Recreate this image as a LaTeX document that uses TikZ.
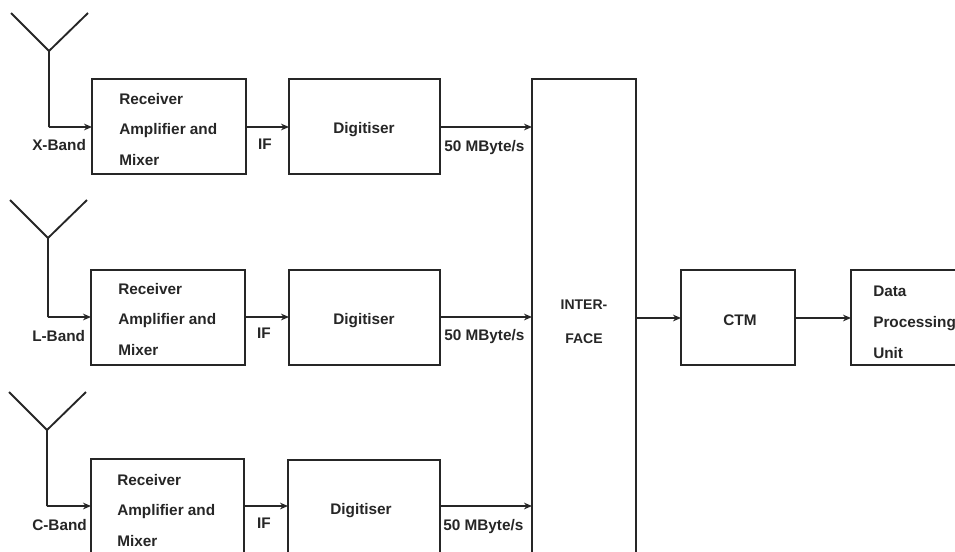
\documentclass[tikz,border=0pt]{standalone}
\usepackage{fontspec}
\setmainfont{Liberation Sans}
\usetikzlibrary{arrows.meta}
\definecolor{ink}{HTML}{262626}
\tikzset{
  x=0.75pt,y=-0.75pt,
  blockbox/.style={draw=ink,line width=1.3pt,rectangle,inner sep=0pt,outer sep=0pt,anchor=north west},
  lbl/.style={font=\fontsize{11.5}{13}\selectfont\bfseries,text=ink,inner sep=0pt,anchor=base west},
  clbl/.style={lbl,anchor=base},
  ifclbl/.style={clbl,font=\fontsize{10.5}{12}\selectfont\bfseries},
  conn/.style={draw=ink,line width=1.4pt,-{Stealth[length=6pt,width=5pt]}},
  aerial/.style={draw=ink,line width=1.4pt,line join=miter}
}
\newcommand{\blk}[5]{\node[blockbox,minimum width=#4*0.75pt,minimum height=#5*0.75pt] (#1) at (#2,#3) {}; }
\begin{document}
\begin{tikzpicture}
\useasboundingbox (0,0) rectangle (955,551);
\clip (0,0) rectangle (955,551);
\blk{r1}{92}{79}{154}{95}
\blk{d1}{289}{79}{151}{95}
\blk{r2}{91}{270}{154}{95}
\blk{d2}{289}{270}{151}{95}
\blk{r3}{91}{459}{153}{110}
\blk{d3}{288}{460}{152}{110}
\blk{ifc}{532}{79}{104}{490}
\blk{ctm}{681}{270}{114}{95}
\blk{dpu}{851}{270}{130}{95}
% antennas
\coordinate (a1l) at (11,13); \coordinate (a1r) at (88,13); \coordinate (a1j) at (49,51); \coordinate (a1b) at (49,127);
\coordinate (a2l) at (10,200); \coordinate (a2r) at (87,200); \coordinate (a2j) at (48,238); \coordinate (a2b) at (48,317);
\coordinate (a3l) at (9,392); \coordinate (a3r) at (86,392); \coordinate (a3j) at (47,430); \coordinate (a3b) at (47,506);
\coordinate (cy) at (0,318);
\draw[aerial] (a1l) -- (a1j) -- (a1r) (a1j) -- (a1b);
\draw[aerial] (a2l) -- (a2j) -- (a2r) (a2j) -- (a2b);
\draw[aerial] (a3l) -- (a3j) -- (a3r) (a3j) -- (a3b);
\draw[conn] (a1b) -- (a1b -| r1.west);
\draw[conn] (a2b) -- (a2b -| r2.west);
\draw[conn] (a3b) -- (a3b -| r3.west);
\draw[conn] (r1.east |- a1b) -- (d1.west |- a1b);
\draw[conn] (r2.east |- a2b) -- (d2.west |- a2b);
\draw[conn] (r3.east |- a3b) -- (d3.west |- a3b);
\draw[conn] (d1.east |- a1b) -- (ifc.west |- a1b);
\draw[conn] (d2.east |- a2b) -- (ifc.west |- a2b);
\draw[conn] (d3.east |- a3b) -- (ifc.west |- a3b);
\draw[conn] (ifc.east |- cy) -- (ctm.west |- cy);
\draw[conn] (ctm.east |- cy) -- (dpu.west |- cy);
% labels
\node[lbl] (t1a) at (119,104) {Receiver};
\node[lbl] (t1b) at (119,134) {Amplifier and};
\node[lbl] (t1c) at (119,165) {Mixer};
\node[lbl] (t2a) at (118,294) {Receiver};
\node[lbl] (t2b) at (118,324) {Amplifier and};
\node[lbl] (t2c) at (118,355) {Mixer};
\node[lbl] (t3a) at (117,485) {Receiver};
\node[lbl] (t3b) at (117,515) {Amplifier and};
\node[lbl] (t3c) at (117,546) {Mixer};
\node[lbl] (x) at (32,150) {X-Band};
\node[lbl] (l) at (32,341) {L-Band};
\node[lbl] (c) at (32,530) {C-Band};
\node[clbl] (i1) at (265,149) {IF};
\node[clbl] (i2) at (264,338) {IF};
\node[clbl] (i3) at (264,528) {IF};
\node[clbl] (g1) at (364,133) {Digitiser};
\node[clbl] (g2) at (364,324) {Digitiser};
\node[clbl] (g3) at (361,514) {Digitiser};
\node[lbl] (m1) at (444,151) {50 MByte/s};
\node[lbl] (m2) at (444,340) {50 MByte/s};
\node[lbl] (m3) at (443,530) {50 MByte/s};
\node[ifclbl] (f1) at (584,309) {INTER-};
\node[ifclbl] (f2) at (584,343) {FACE};
\node[clbl] (cm) at (740,325) {CTM};
\node[lbl] (p1) at (873,296) {Data};
\node[lbl] (p2) at (873,327) {Processing};
\node[lbl] (p3) at (873,358) {Unit};
\end{tikzpicture}
\end{document}
